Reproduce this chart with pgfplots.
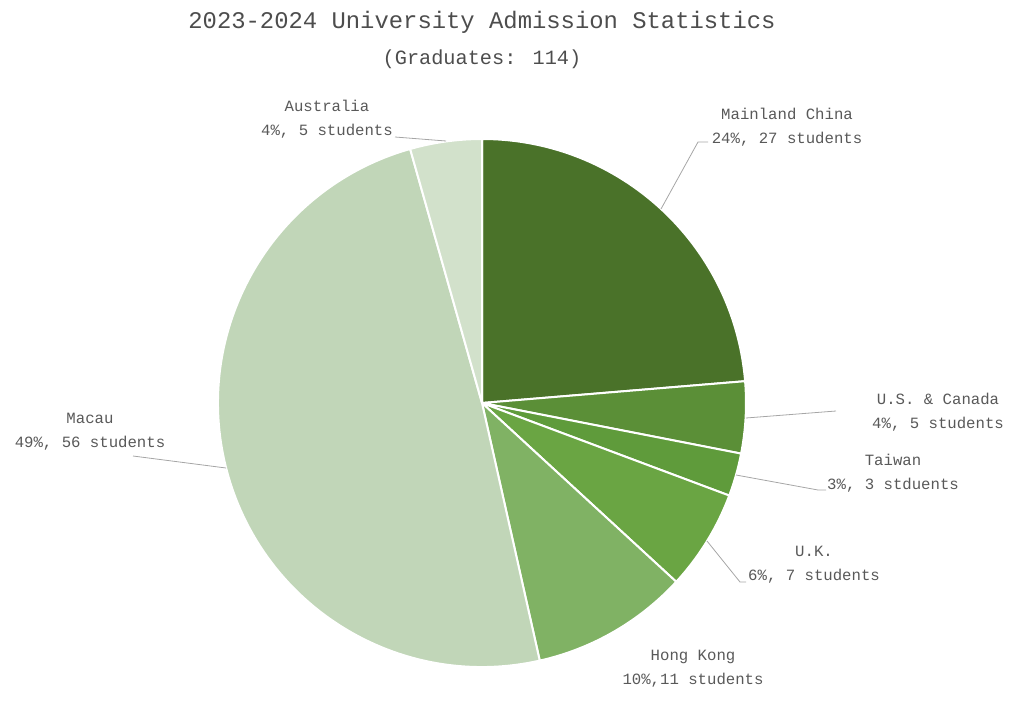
\documentclass[border=0pt]{standalone}
\usepackage{pgfplots}
\pgfplotsset{compat=1.18}
\usepackage{pgfplotstable}
\usepackage{fontspec}
\setmainfont{Liberation Mono}
\definecolor{c0}{HTML}{4A7229}
\definecolor{c1}{HTML}{5B8F37}
\definecolor{c2}{HTML}{5F9B3B}
\definecolor{c3}{HTML}{6AA543}
\definecolor{c4}{HTML}{80B264}
\definecolor{c5}{HTML}{C1D6B8}
\definecolor{c6}{HTML}{D2E1CB}
\definecolor{txt}{HTML}{595959}
\definecolor{ttl}{HTML}{4D4D4D}
\definecolor{lead}{HTML}{A6A6A6}
\pgfplotstableread{
region count
MainlandChina 27
USCanada 5
Taiwan 3
UK 7
HongKong 11
Macau 56
Australia 5
}\pietable
\begin{document}
\begin{tikzpicture}
\gdef\cum{0}
\pgfplotstableforeachcolumnelement{count}\of\pietable\as\val{%
  \pgfmathsetmacro\a{90-\cum/114*360}%
  \pgfmathsetmacro\cumnew{\cum+\val}%
  \pgfmathsetmacro\b{90-\cumnew/114*360}%
  \expandafter\xdef\csname sA\pgfplotstablerow\endcsname{\a}%
  \expandafter\xdef\csname sB\pgfplotstablerow\endcsname{\b}%
  \xdef\cum{\cumnew}%
}
\useasboundingbox (0,0) rectangle (762pt,531pt);
\begin{axis}[at={(0,0)},anchor=south west,scale only axis,
  width=762pt,height=531pt,xmin=0,xmax=1016,ymin=-708,ymax=0,
  hide axis,clip=false]
\pgfplotsinvokeforeach{0,...,6}{
  \fill[c#1,draw=white,line width=1.5pt,line join=round]
    (axis cs:482,-403) -- ++(\csname sA#1\endcsname:198pt)
    arc[start angle=\csname sA#1\endcsname,end angle=\csname sB#1\endcsname,radius=198pt] -- cycle;
}
% leader lines
\draw[lead,line width=0.6pt] (axis cs:661,-209) -- (axis cs:698,-142) -- (axis cs:708,-142);
\draw[lead,line width=0.6pt] (axis cs:746,-418) -- (axis cs:836,-411);
\draw[lead,line width=0.6pt] (axis cs:736,-475) -- (axis cs:818,-490) -- (axis cs:826,-490);
\draw[lead,line width=0.6pt] (axis cs:707,-541) -- (axis cs:740,-582) -- (axis cs:746,-582);
\draw[lead,line width=0.6pt] (axis cs:133,-456) -- (axis cs:226,-468);
\draw[lead,line width=0.6pt] (axis cs:395,-137) -- (axis cs:446,-141);
% titles
\node[ttl,font=\fontsize{17.9pt}{20pt}\selectfont] at (axis cs:482,-22) {2023-2024 University Admission Statistics};
\node[ttl,font=\fontsize{15.2pt}{18pt}\selectfont] at (axis cs:482,-59) {(Graduates: 114)};
% labels
\tikzset{lab/.style={txt,font=\fontsize{11.75pt}{18pt}\selectfont,align=center,inner sep=0pt}}
\node[lab] at (axis cs:787,-127) {Mainland China\\24\%, 27 students};
\node[lab] at (axis cs:938,-412) {U.S. \& Canada\\4\%, 5 students};
\node[lab] at (axis cs:893,-473) {Taiwan\\3\%, 3 stduents};
\node[lab] at (axis cs:814,-565) {U.K.\\6\%, 7 students};
\node[lab] at (axis cs:693,-669) {Hong Kong\\10\%,11 students};
\node[lab] at (axis cs:90,-432) {Macau\\49\%, 56 students};
\node[lab] at (axis cs:327,-119) {Australia\\4\%, 5 students};
\end{axis}
\end{tikzpicture}
\end{document}
